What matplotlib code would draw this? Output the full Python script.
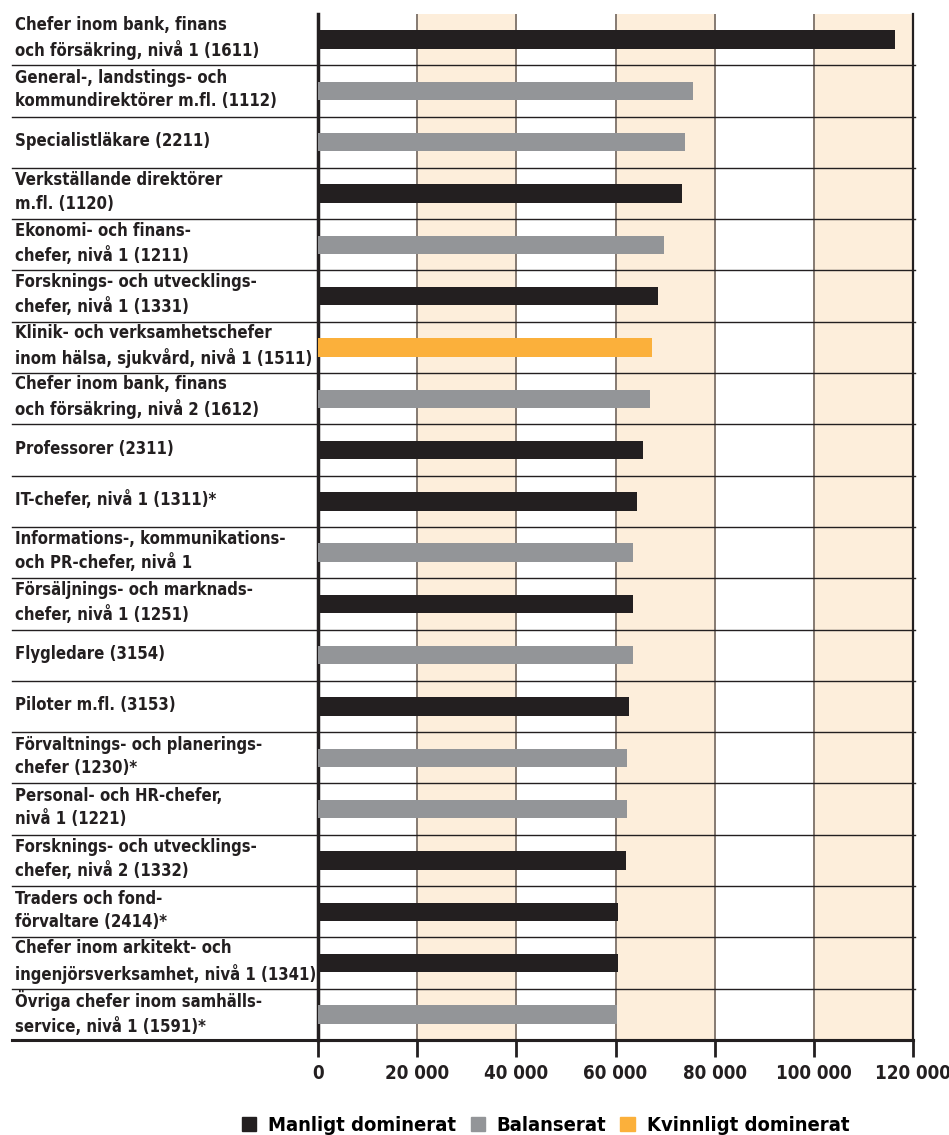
import matplotlib
matplotlib.use("Agg")
import matplotlib.pyplot as plt
from matplotlib.patches import Patch
from matplotlib.ticker import FuncFormatter

plt.rcParams['font.family'] = ['DejaVu Sans']
plt.rcParams['font.stretch'] = 'condensed'
plt.rcParams['font.weight'] = 'bold'

labels = [
    "Chefer inom bank, finans\noch försäkring, nivå 1 (1611)",
    "General-, landstings- och\nkommundirektörer m.fl. (1112)",
    "Specialistläkare (2211)",
    "Verkställande direktörer\nm.fl. (1120)",
    "Ekonomi- och finans-\nchefer, nivå 1 (1211)",
    "Forsknings- och utvecklings-\nchefer, nivå 1 (1331)",
    "Klinik- och verksamhetschefer\ninom hälsa, sjukvård, nivå 1 (1511)",
    "Chefer inom bank, finans\noch försäkring, nivå 2 (1612)",
    "Professorer (2311)",
    "IT-chefer, nivå 1 (1311)*",
    "Informations-, kommunikations-\noch PR-chefer, nivå 1",
    "Försäljnings- och marknads-\nchefer, nivå 1 (1251)",
    "Flygledare (3154)",
    "Piloter m.fl. (3153)",
    "Förvaltnings- och planerings-\nchefer (1230)*",
    "Personal- och HR-chefer,\nnivå 1 (1221)",
    "Forsknings- och utvecklings-\nchefer, nivå 2 (1332)",
    "Traders och fond-\nförvaltare (2414)*",
    "Chefer inom arkitekt- och\ningenjörsverksamhet, nivå 1 (1341)",
    "Övriga chefer inom samhälls-\nservice, nivå 1 (1591)*",
]
salary = [116300, 75700, 74000, 73500, 69800, 68500, 67400, 66900, 65600, 64300,
          63600, 63500, 63600, 62700, 62400, 62400, 62200, 60600, 60600, 60300]
group = ['M', 'B', 'B', 'M', 'B', 'M', 'K', 'B', 'M', 'M',
         'B', 'M', 'B', 'M', 'B', 'B', 'M', 'M', 'M', 'B']
group_names = {'M': 'Manligt dominerat', 'B': 'Balanserat', 'K': 'Kvinnligt dominerat'}

colors = {'M': '#231f20', 'B': '#939598', 'K': '#fbb03b'}
band_col = '#fdeedb'
grid_col = '#857a72'

fig = plt.figure(figsize=(9.49, 11.35), dpi=100)
ax = fig.add_axes([318/949, 95/1135, (913-318)/949, (1040-14)/1135])

# shaded bands
for x0 in [20000, 60000, 100000]:
    ax.axvspan(x0, x0 + 20000, color=band_col, lw=0, zorder=0)
for x in [20000, 40000, 60000, 80000, 100000]:
    ax.axvline(x, color=grid_col, lw=1.4, zorder=1)

ys = list(range(len(labels)))
ax.barh(ys, salary, height=0.36, color=[colors[g] for g in group], zorder=3)

# row separators reaching over the label column
trans = ax.get_yaxis_transform()
for i in range(len(labels) - 1):
    ax.plot([-0.515, 1.004], [i + 0.5, i + 0.5], transform=trans, color='#231f20',
            lw=1.0, clip_on=False, zorder=4)
ax.plot([-0.515, 1.0], [19.5, 19.5], transform=trans, color='#231f20',
        lw=2.2, clip_on=False, zorder=5)

for i, lab in enumerate(labels):
    ax.text(-0.51, i - 0.03, lab, transform=trans, ha='left', va='center',
            fontsize=12, linespacing=1.38, color='#231f20')

ax.set_xlim(0, 120000)
ax.set_ylim(19.5, -0.5)
ax.set_yticks([])
ax.set_xticks(range(0, 120001, 20000))
ax.xaxis.set_major_formatter(FuncFormatter(lambda v, p: f"{int(v):,}".replace(',', ' ')))
ax.tick_params(axis='x', length=12, width=2, direction='out', labelsize=13.5,
               pad=5, colors='#231f20')
ax.spines['top'].set_visible(False)
ax.spines['left'].set_linewidth(2.5)
ax.spines['left'].set_color('#231f20')
ax.spines['right'].set_linewidth(1.6)
ax.spines['right'].set_color('#231f20')
ax.spines['bottom'].set_linewidth(2.2)
ax.spines['bottom'].set_color('#231f20')

handles = [Patch(color=colors[k], label=group_names[k]) for k in ['M', 'B', 'K']]
fig.legend(handles=handles, loc='lower center', bbox_to_anchor=(0.575, -0.016),
           ncol=3, frameon=False, fontsize=14.5, handlelength=0.7, handleheight=0.7,
           handletextpad=0.6, columnspacing=0.7)

fig.savefig("out.png", dpi=100)
